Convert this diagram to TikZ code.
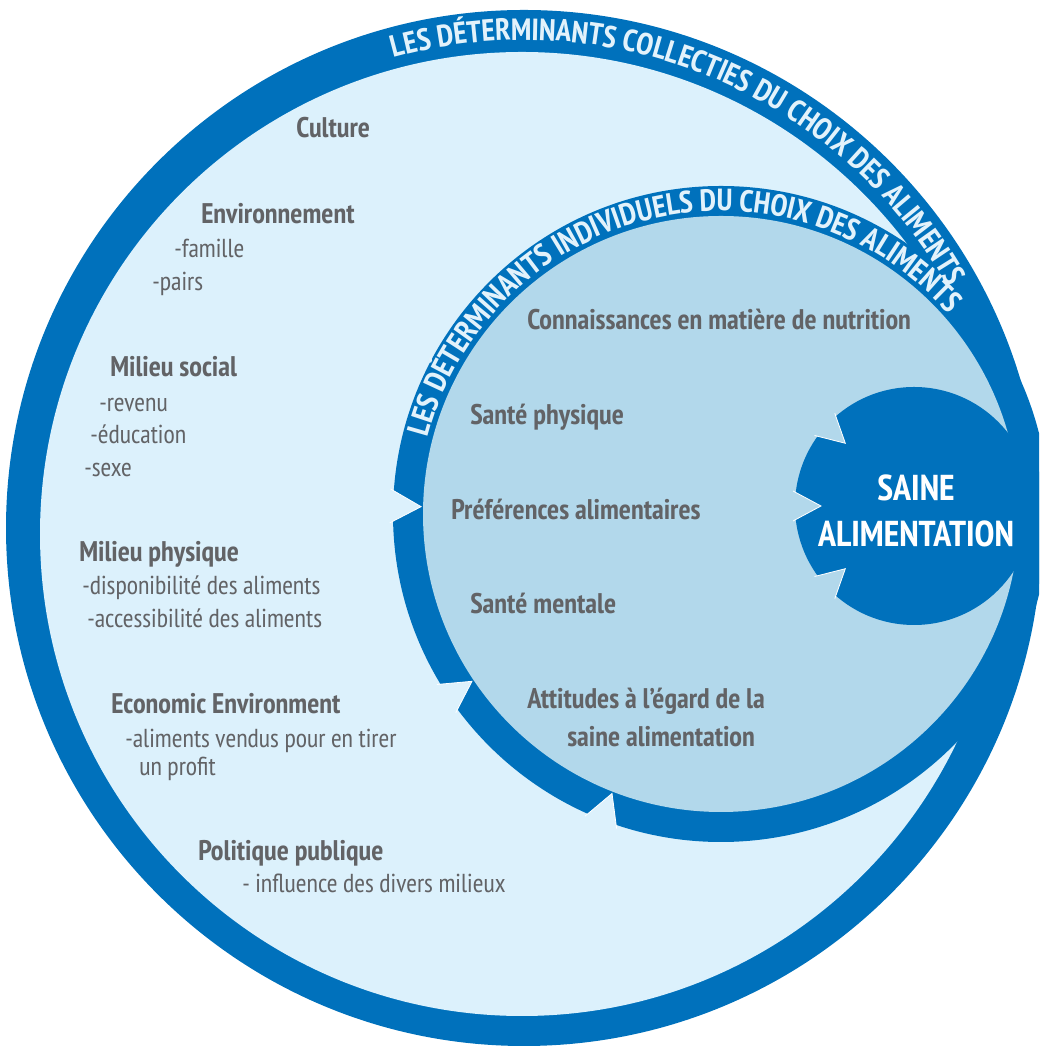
\documentclass[tikz,border=0pt]{standalone}
\usepackage{fontspec}
\IfFontExistsTF{PT Sans Narrow}{\setmainfont{PT Sans Narrow}}{\setmainfont{Liberation Sans}[FakeStretch=0.82]}
\usetikzlibrary{positioning, decorations.text}
\definecolor{ringblue}{HTML}{0071BC}
\definecolor{outerfill}{HTML}{DCF1FC}
\definecolor{innerfill}{HTML}{B2D8EB}
\definecolor{labelgray}{HTML}{626366}
\definecolor{ringtext}{HTML}{E2F2FB}
\newcommand{\ringfont}{\fontsize{23}{23}\selectfont\bfseries}
\tikzstyle{title} = [anchor=base west, inner sep=0pt, text=labelgray, font=\fontsize{21.3}{23}\selectfont\bfseries]
\tikzstyle{item} = [anchor=base west, inner sep=0pt, text=labelgray, font=\fontsize{19.5}{22}\selectfont]
\tikzstyle{factor} = [title]
\tikzstyle{center} = [align=center, text=white, font=\fontsize{27}{34.5}\selectfont\bfseries]
\tikzstyle{notch} = [fill=outerfill]
\tikzstyle{notchedge} = [draw=white, line width=0.6pt]

\begin{document}
\begin{tikzpicture}[x=0.75pt, y=0.75pt]
			\useasboundingbox (0,0) rectangle (1039,1048);
			\clip (0,0) rectangle (1039,1048);
			%cercles
			\fill[ringblue] (524,520) circle (518);
			\fill[outerfill] (522,514) circle (482);
			\fill[ringblue] (721,534) circle (328);
			\fill[innerfill] (721,534) circle (298);
			\fill[ringblue] (914,542) circle (119);
			
			%fleches de l'anneau interieur
			\foreach \a in {178.6, 213.9, 248.7}{
				\begin{scope}[shift={(721,534)}, rotate=\a]
					\fill[notch] (331,17) -- (300,0) -- (331,-17) -- cycle;
					\draw[notchedge] (331,17) -- (300,0) -- (331,-17);
				\end{scope}
			}
			%fleches vers le centre
			\foreach \a in {137.6, 180, 222.4}{
				\begin{scope}[shift={(914,542)}, rotate=\a]
					\fill[innerfill] (121,15) -- (93,0) -- (121,-15) -- cycle;
					\draw[notchedge] (121,15) -- (93,0) -- (121,-15);
				\end{scope}
			}
			
			%textes des anneaux
			\path[decorate, decoration={text along path, text align=center,
				text={|\ringfont\color{ringtext}|LES DÉTERMINANTS COLLECTIES DU CHOIX DES ALIMENTS}}]
				(524,520) ++(139.5:488) arc[start angle=139.5, end angle=-4.5, radius=488];
			\path[decorate, decoration={text along path, text align=center,
				text={|\ringfont\color{ringtext}|LES DÉTERMINANTS INDIVIDUELS DU CHOIX DES ALIMENTS}}]
				(721,534) ++(188.3:303) arc[start angle=188.3, end angle=18.3, radius=303];
			
			%determinants collectifs
			\node (culture) [title] at (296,910) {Culture};
			\node (envir) [title] at (201,824) {Environnement};
			\node (famille) [item] at (174,790) {-famille};
			\node (pairs) [item] at (152,757) {-pairs};
			\node (social) [title] at (110,671) {Milieu social};
			\node (revenu) [item] at (99,636) {-revenu};
			\node (educ) [item] at (90,604) {-éducation};
			\node (sexe) [item] at (84,571) {-sexe};
			\node (physique) [title] at (79,486) {Milieu physique};
			\node (dispo) [item] at (82,453) {-disponibilité des aliments};
			\node (acces) [item] at (87,420) {-accessibilité des aliments};
			\node (eco) [title] at (111,334) {Economic Environment};
			\node (vendus) [item] at (125,300) {-aliments vendus pour en tirer};
			\node (profit) [item] at (139,272) {un profit};
			\node (politique) [title] at (198,187) {Politique publique};
			\node (influence) [item] at (242,155) {- influence des divers milieux};
			
			%determinants individuels
			\node (connais) [factor] at (527,718) {Connaissances en matière de nutrition};
			\node (santephy) [factor] at (470,623) {Santé physique};
			\node (pref) [factor] at (451,528) {Préférences alimentaires};
			\node (santement) [factor] at (470,434) {Santé mentale};
			\node (attitudes) [factor] at (527,339) {Attitudes à l’égard de la};
			\node (saine) [factor] at (567,301) {saine alimentation};
			
			\node (centre) [center] at (916,537) {SAINE\\ALIMENTATION};
		\end{tikzpicture}
\end{document}
